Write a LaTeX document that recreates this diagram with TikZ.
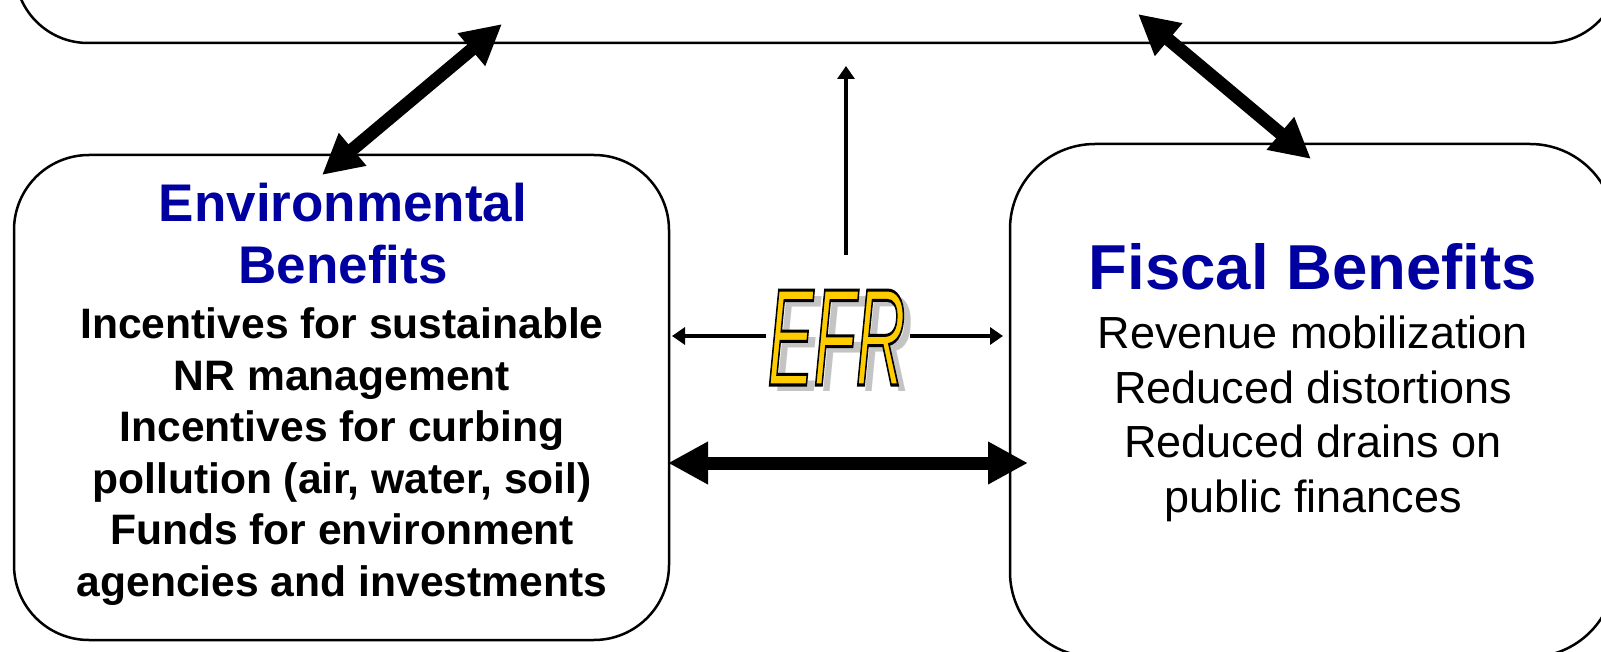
\documentclass[tikz,border=0pt]{standalone}
\usepackage{fontspec}
\setmainfont{Liberation Sans}
\usetikzlibrary{arrows.meta}
\definecolor{titleblue}{HTML}{0000A0}
\definecolor{efryellow}{HTML}{FFCC00}
\definecolor{efrshadow}{HTML}{C4C4C4}
\newcommand{\efrword}{\scalebox{0.5}[1]{\fontsize{138}{138}\selectfont\itshape EFR}}
\newcommand{\efrlogo}{%
\makebox[0pt][l]{\hspace{8pt}\smash{\raisebox{-6pt}{\color{efrshadow}\efrword}}}%
{\color{efryellow}\special{pdf:literal direct 0 0 0 RG 3 w 2 Tr}\efrword\special{pdf:literal direct 0 Tr}}}
\begin{document}
\begin{tikzpicture}[x=1pt,y=-1pt,
  box/.style={draw, line width=2.5pt, fill=white, inner sep=0pt},
  bigarrow/.style={line width=13pt, {Triangle[length=40pt,width=40pt]}-{Triangle[length=40pt,width=40pt]}},
  thinarrow/.style={line width=4.5pt, -{Triangle[length=13pt,width=17pt]}},
  titletext/.style={text=titleblue, font=\bfseries, align=center, inner sep=0pt},
  envtext/.style={font=\bfseries\fontsize{42.6}{51.5}\selectfont, align=center, inner sep=0pt},
  fistext/.style={font=\fontsize{45}{54.5}\selectfont, align=center, inner sep=0pt}]
\path[use as bounding box, clip] (0,0) rectangle (1601,652);
\fill[white] (0,0) rectangle (1601,652);
% boxes
\node[box, rounded corners=73pt, minimum width=1605pt, minimum height=243pt] (topbox) at (817.5,-78.5) {};
\node[box, rounded corners=75pt, minimum width=655pt, minimum height=485pt] (envbox) at (341.5,397.5) {};
\node[box, rounded corners=85pt, minimum width=605pt, minimum height=513pt] (fisbox) at (1312.5,400.5) {};
% texts
\node[titletext, font=\bfseries\fontsize{53}{62}\selectfont] (envtitle) at (343,234) {Environmental\\Benefits};
\node[envtext] (envbody) at (342,456.5) {Incentives for sustainable\\NR management\\Incentives for curbing\\pollution (air, water, soil)\\Funds for environment\\agencies and investments};
\node[titletext, font=\bfseries\fontsize{63.5}{70}\selectfont] (fistitle) at (1313,267) {Fiscal Benefits};
\node[fistext] (fisbody) at (1313,419) {Revenue mobilization\\Reduced distortions\\Reduced drains on\\public finances};
\node[inner sep=0pt, anchor=base] (efr) at (836.5,385) {\efrlogo};
% connector ends
\coordinate (efrL) at (766,336);
\coordinate (efrR) at (910,336);
\coordinate (envR) at (672,336);
\coordinate (fisL) at (1003,336);
\coordinate (efrT) at (846,255);
\coordinate (topB) at (846,66);
\coordinate (h1) at (668,463);
\coordinate (h2) at (1028,463);
\coordinate (d1a) at (502,24);
\coordinate (d1b) at (322,175);
\coordinate (d2a) at (1138,14);
\coordinate (d2b) at (1311,159);
% arrows
\draw[thinarrow] (efrL) -- (envR);
\draw[thinarrow] (efrR) -- (fisL);
\draw[thinarrow] (efrT) -- (topB);
\draw[bigarrow] (h1) -- (h2);
\draw[bigarrow] (d1a) -- (d1b);
\draw[bigarrow] (d2a) -- (d2b);
\end{tikzpicture}
\end{document}
